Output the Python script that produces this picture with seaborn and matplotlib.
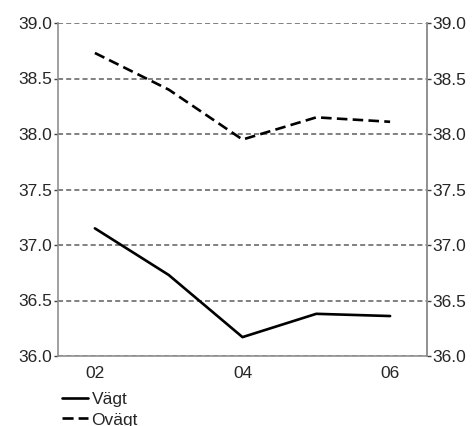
import pandas as pd
import matplotlib.pyplot as plt
import seaborn as sns
from matplotlib.ticker import FixedLocator

# Data
years = ["02", "03", "04", "05", "06"]
vagt = [37.15, 36.73, 36.17, 36.38, 36.36]
ovagt = [38.73, 38.40, 37.95, 38.15, 38.11]
y_ticks = [36.0, 36.5, 37.0, 37.5, 38.0, 38.5, 39.0]

df = pd.DataFrame({
    "year": years * 2,
    "value": vagt + ovagt,
    "serie": ["Vägt"] * len(years) + ["Ovägt"] * len(years),
})

sns.set_style("white")
plt.rcParams['font.family'] = ['Liberation Sans', 'DejaVu Sans']
fs = 12.5

fig = plt.figure(figsize=(4.72, 4.26), dpi=100)
ax = fig.add_axes([58 / 472, 70 / 426, 369 / 472, 333 / 426])

sns.lineplot(data=df, x="year", y="value", style="serie", color="black",
             dashes={"Vägt": "", "Ovägt": (4, 2)}, linewidth=1.9,
             legend=False, ax=ax)

ax.set_xlim(-0.5, len(years) - 0.5)
ax.set_ylim(36.0, 39.0)
ax.set_xlabel("")
ax.set_ylabel("")

# grid lines
for y in y_ticks:
    ax.axhline(y, color="#808080", linestyle=(0, (2.6, 1.6)), linewidth=1.4, zorder=0)

# x axis: labels every other year, tick marks between categories
ax.xaxis.set_major_locator(FixedLocator([0, 2, 4]))
ax.set_xticklabels([years[0], years[2], years[4]])
ax.xaxis.set_minor_locator(FixedLocator([i - 0.5 for i in range(len(years) + 1)]))
ax.tick_params(axis="x", which="major", length=0, pad=7, labelsize=fs)
ax.tick_params(axis="x", which="minor", length=4, width=1, color="#404040", direction="out")

ax.set_yticks(y_ticks)
ax.set_yticklabels([f"{v:.1f}" for v in y_ticks])
ax.tick_params(axis="y", length=3, width=1, color="#404040", labelsize=fs, pad=1)

ax.spines["top"].set_visible(False)
for side in ["left", "bottom", "right"]:
    ax.spines[side].set_color("#909090")
    ax.spines[side].set_linewidth(1.2)

ax2 = ax.twinx()
ax2.set_ylim(36.0, 39.0)
ax2.set_yticks(y_ticks)
ax2.set_yticklabels([f"{v:.1f}" for v in y_ticks])
ax2.tick_params(axis="y", length=3, width=1, color="#404040", labelsize=fs, pad=1)
for side in ["top", "left", "bottom"]:
    ax2.spines[side].set_visible(False)
ax2.spines["right"].set_color("#909090")
ax2.spines["right"].set_linewidth(1.2)

# legend below the plot
h1, = ax.plot([], [], color="black", linewidth=1.9)
h2, = ax.plot([], [], color="black", linewidth=1.9, linestyle=(0, (4.2, 1.9)))
fig.legend([h1, h2], ["Vägt", "Ovägt"], loc="upper left",
           bbox_to_anchor=(62 / 472, 1 - 392 / 426), frameon=False,
           fontsize=fs, handlelength=1.5, handletextpad=0.2,
           labelspacing=0.3, borderpad=0, borderaxespad=0)

fig.savefig("out.png", dpi=100)
